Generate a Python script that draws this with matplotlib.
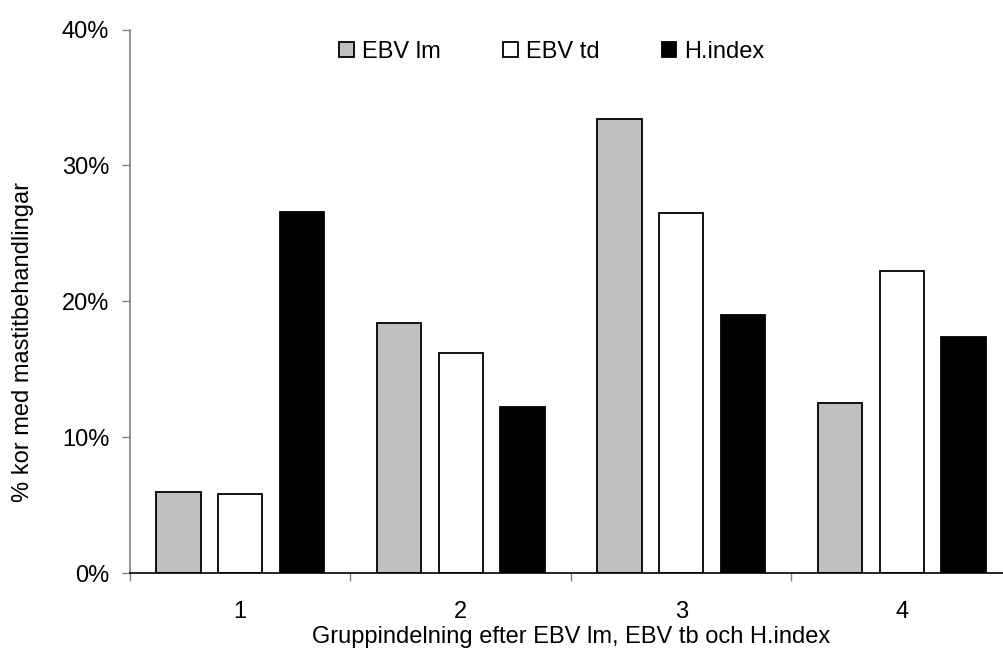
import numpy as np
import matplotlib.pyplot as plt
from matplotlib.patches import Patch

plt.rcParams['font.family'] = ['Liberation Sans', 'DejaVu Sans']

groups = ['1', '2', '3', '4']
ebv_lm = [6.0, 18.4, 33.4, 12.5]
ebv_td = [5.8, 16.2, 26.5, 22.2]
h_index = [26.6, 12.2, 19.0, 17.4]

series = [('EBV lm', ebv_lm, '#c0c0c0'),
          ('EBV td', ebv_td, 'white'),
          ('H.index', h_index, 'black')]

fs = 17

fig = plt.figure(figsize=(10.04, 6.53), dpi=100)
ax = fig.add_axes([130 / 1004, 79.7 / 653, 882 / 1004, 543.8 / 653])

x = np.arange(len(groups))
width = 0.2
offsets = [-0.28, 0.0, 0.28]
for (name, vals, col), off in zip(series, offsets):
    ax.bar(x + off, vals, width, color=col, edgecolor='black', linewidth=1.3, label=name)

ax.set_xlim(-0.5, len(groups) - 0.5)
ax.set_ylim(0, 40)
ax.set_yticks([0, 10, 20, 30, 40])
ax.set_yticklabels([f'{v}%' for v in [0, 10, 20, 30, 40]])

# group labels in the middle, tick marks on the boundaries
ax.set_xticks(x)
ax.set_xticklabels(groups)
ax.tick_params(axis='x', length=0, labelsize=fs, pad=20)
ax.set_xticks(np.arange(len(groups)) - 0.5, minor=True)
ax.tick_params(axis='x', which='minor', length=6, color='#808080', width=1)
ax.tick_params(axis='y', length=6, color='#808080', width=1, labelsize=fs, pad=9)

for s in ['top', 'right']:
    ax.spines[s].set_visible(False)
ax.spines['left'].set_color('#808080')
ax.spines['left'].set_linewidth(1.2)
ax.spines['bottom'].set_color('black')
ax.spines['bottom'].set_linewidth(1.2)

fig.text(571 / 1004, 1 - 643 / 653, 'Gruppindelning efter EBV lm, EBV tb och H.index',
         fontsize=fs, ha='center', va='baseline')
fig.text(23 / 1004, 1 - 342 / 653, '% kor med mastitbehandlingar',
         fontsize=fs, rotation=90, ha='center', va='center')

handles = [Patch(facecolor=c, edgecolor='black', linewidth=1.3) for _, _, c in series]
ax.legend(handles, [n for n, _, _ in series], loc='center', bbox_to_anchor=(0.4785, 0.9587),
          ncol=3, frameon=False, fontsize=fs, handlelength=0.6, handleheight=0.6,
          handletextpad=0.34, columnspacing=2.67)

fig.savefig('out.png', dpi=100)
